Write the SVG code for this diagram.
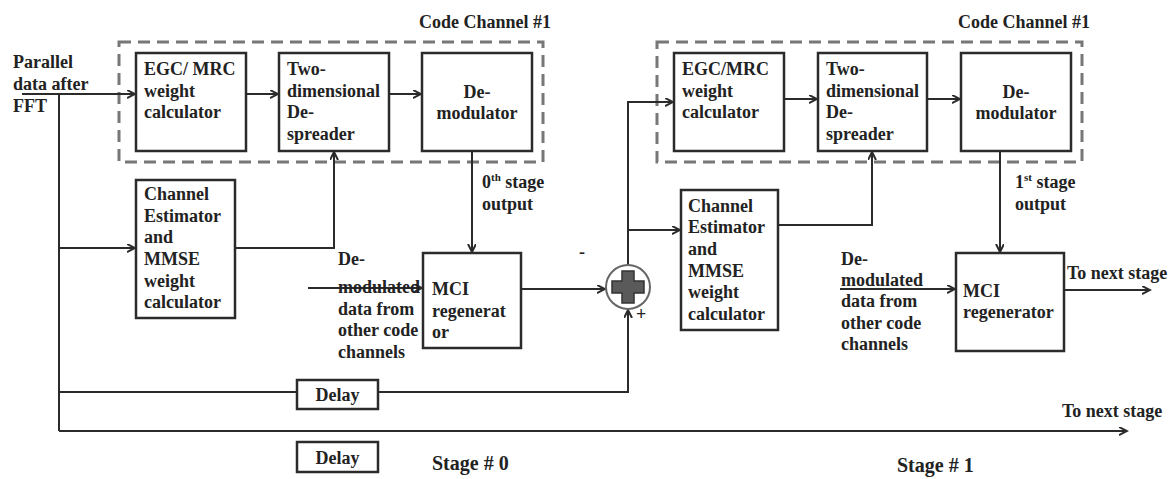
<svg xmlns="http://www.w3.org/2000/svg" width="1169" height="479" viewBox="0 0 1169 479">
<defs>
<marker id="arr" markerWidth="10" markerHeight="10" refX="8" refY="4" orient="auto" markerUnits="userSpaceOnUse">
<path d="M0,0 L8,4 L0,8" fill="none" stroke="#2b2b2b" stroke-width="2"/>
</marker>
</defs>
<style>
.box{fill:#fff;stroke:#2b2b2b;stroke-width:2.5}
.dash{fill:none;stroke:#777;stroke-width:3;stroke-dasharray:12 7}
.ln{fill:none;stroke:#2b2b2b;stroke-width:2}
.a{marker-end:url(#arr)}
text{font-family:"Liberation Serif","Times New Roman",serif;font-weight:bold;font-size:18px;fill:#222}
.c{text-anchor:middle}
.big{font-size:20px}
</style>
<rect width="1169" height="479" fill="#fff"/>

<g id="groups">
<rect class="dash" x="119" y="42" width="424" height="120"/>
<text x="419" y="28">Code Channel #1</text>
<rect class="dash" x="657" y="42" width="425" height="120"/>
<text x="958" y="28">Code Channel #1</text>
</g>

<g id="connectors">
<path class="ln a" d="M22,94 H135"/>
<path class="ln" d="M59,94 V431"/>
<path class="ln a" d="M59,248 H135"/>
<path class="ln a" d="M246,94 H278"/>
<path class="ln a" d="M389,94 H421"/>
<path class="ln a" d="M235,248 H334 V152"/>
<path class="ln a" d="M472,151 V252"/>
<path class="ln a" d="M308,288 H422"/>
<path class="ln a" d="M521,289 H605"/>
<path class="ln" d="M59,392 H297"/>
<path class="ln a" d="M378,392 H628 V310"/>
<path class="ln a" d="M59,431 H1127"/>
<path class="ln a" d="M628,265 V102 H673"/>
<path class="ln a" d="M628,230 H680"/>
<path class="ln a" d="M784,99 H817"/>
<path class="ln a" d="M927,99 H960"/>
<path class="ln a" d="M778,225 H872 V152"/>
<path class="ln a" d="M1000,151 V252"/>
<path class="ln a" d="M840,289 H955"/>
<path class="ln a" d="M1064,290 H1150"/>
</g>

<g id="input-label">
<text x="13" y="68">Parallel</text>
<text x="13" y="90">data after</text>
<text x="13" y="112">FFT</text>
</g>

<g id="egc1">
<rect class="box" x="136" y="53" width="110" height="98"/>
<text x="144" y="75">EGC/ MRC</text>
<text x="144" y="97">weight</text>
<text x="144" y="118">calculator</text>
</g>

<g id="despreader1">
<rect class="box" x="279" y="53" width="110" height="98"/>
<text x="287" y="75">Two-</text>
<text x="287" y="97">dimensional</text>
<text x="287" y="118">De-</text>
<text x="287" y="140">spreader</text>
</g>

<g id="demod1">
<rect class="box" x="422" y="53" width="110" height="98"/>
<text class="c" x="477" y="98">De-</text>
<text class="c" x="477" y="119">modulator</text>
</g>

<g id="chest1">
<rect class="box" x="136" y="180" width="99" height="138"/>
<text x="144" y="200">Channel</text>
<text x="144" y="222">Estimator</text>
<text x="144" y="243">and</text>
<text x="144" y="265">MMSE</text>
<text x="144" y="287">weight</text>
<text x="144" y="308">calculator</text>
</g>

<g id="stage0-out">
<text x="482" y="188">0<tspan font-size="11" dy="-7">th</tspan><tspan dy="7"> stage</tspan></text>
<text x="482" y="210">output</text>
</g>

<g id="other1">
<text x="338" y="265">De-</text>
<text x="338" y="293">modulated</text>
<text x="338" y="315">data from</text>
<text x="338" y="336">other code</text>
<text x="338" y="358">channels</text>
</g>

<g id="mci1">
<rect class="box" x="423" y="253" width="98" height="95"/>
<text x="432" y="295">MCI</text>
<text x="432" y="317">regenerat</text>
<text x="432" y="338">or</text>
</g>

<g id="adder">
<circle cx="628" cy="287" r="22" fill="#fff" stroke="#666" stroke-width="2"/>
<path d="M622,271 H634 V281 H644 V293 H634 V303 H622 V293 H612 V281 H622 Z" fill="#5a5a5a" stroke="#333" stroke-width="1.5"/>
<text x="579" y="258" font-size="16">-</text>
<text x="636" y="320" font-size="16">+</text>
</g>

<g id="delay1">
<rect class="box" x="297" y="380" width="81" height="29"/>
<text class="c" x="337.5" y="401">Delay</text>
</g>

<g id="delay2">
<rect class="box" x="297" y="442" width="81" height="30"/>
<text class="c" x="337.5" y="464">Delay</text>
</g>

<g id="egc2">
<rect class="box" x="674" y="53" width="110" height="98"/>
<text x="682" y="75">EGC/MRC</text>
<text x="682" y="97">weight</text>
<text x="682" y="118">calculator</text>
</g>

<g id="despreader2">
<rect class="box" x="818" y="53" width="109" height="98"/>
<text x="826" y="75">Two-</text>
<text x="826" y="97">dimensional</text>
<text x="826" y="118">De-</text>
<text x="826" y="140">spreader</text>
</g>

<g id="demod2">
<rect class="box" x="961" y="53" width="110" height="98"/>
<text class="c" x="1016" y="98">De-</text>
<text class="c" x="1016" y="119">modulator</text>
</g>

<g id="chest2">
<rect class="box" x="681" y="190" width="97" height="140"/>
<text x="688" y="212">Channel</text>
<text x="688" y="233">Estimator</text>
<text x="688" y="255">and</text>
<text x="688" y="277">MMSE</text>
<text x="688" y="298">weight</text>
<text x="688" y="320">calculator</text>
</g>

<g id="stage1-out">
<text x="1015" y="188">1<tspan font-size="11" dy="-7">st</tspan><tspan dy="7"> stage</tspan></text>
<text x="1015" y="210">output</text>
</g>

<g id="other2">
<text x="841" y="265">De-</text>
<text x="841" y="286">modulated</text>
<text x="841" y="307">data from</text>
<text x="841" y="329">other code</text>
<text x="841" y="350">channels</text>
</g>

<g id="mci2">
<rect class="box" x="956" y="253" width="108" height="98"/>
<text x="963" y="297">MCI</text>
<text x="963" y="318">regenerator</text>
</g>

<g id="labels">
<text x="1067" y="279">To next stage</text>
<text x="1062" y="417">To next stage</text>
<text class="big" x="432" y="470">Stage # 0</text>
<text class="big" x="897" y="472">Stage # 1</text>
</g>
</svg>
